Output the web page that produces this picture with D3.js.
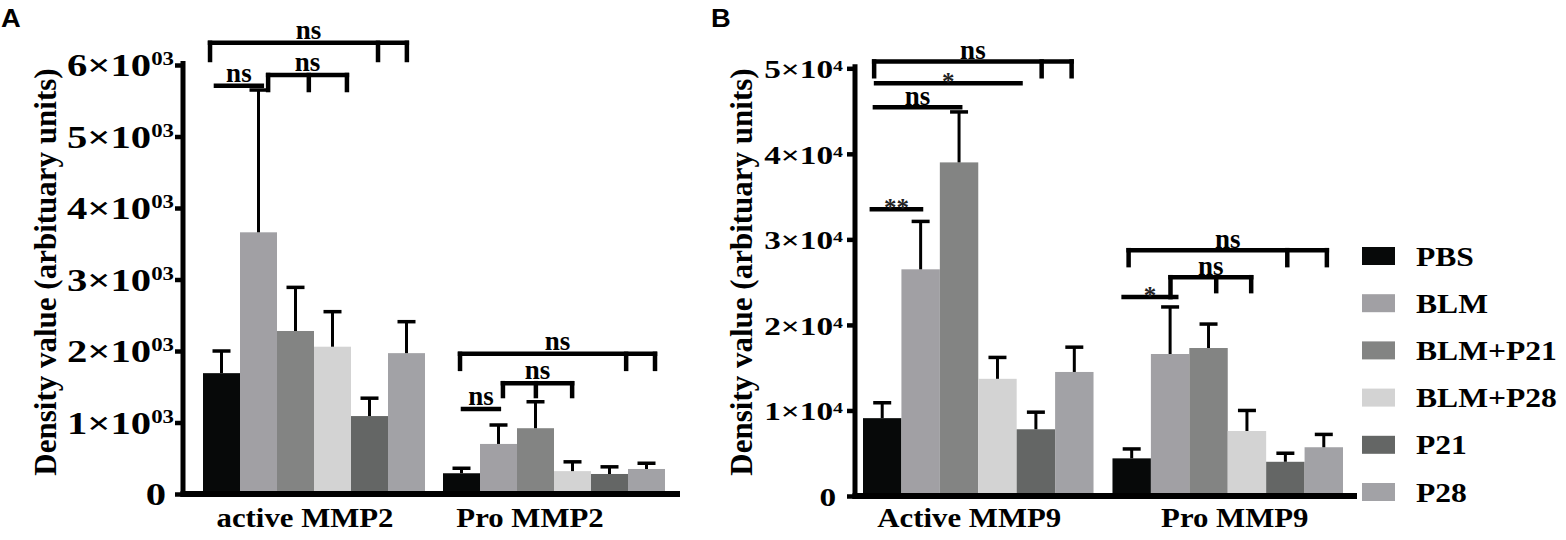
<!DOCTYPE html>
<html><head><meta charset="utf-8">
<script src="https://cdn.jsdelivr.net/npm/d3@7"></script>
<style>
html,body{margin:0;padding:0;background:#fff;}
svg{display:block;}
text{font-family:"Liberation Serif","Times New Roman",serif;font-weight:bold;fill:#000;}
</style></head><body>
<script>
// ---------- DATA ----------
const series = ["PBS","BLM","BLM+P21","BLM+P28","P21","P28"];
const seriesColors = ["#070909","#a1a0a4","#838483","#d3d3d3","#646665","#a2a2a6"];

// Panel A
const groupsA = ["active MMP2","Pro MMP2"];
const meanActiveMMP2 = [1690,3660,2280,2060,1090,1970];
const semActiveMMP2  = [310,1990,610,490,250,440];
const meanProMMP2    = [290,700,920,320,280,350];
const semProMMP2     = [70,265,370,130,100,80];
const ticksA      = [0,1000,2000,3000,4000,5000,6000];
const tickLabelsA = ["0","1×10","2×10","3×10","4×10","5×10","6×10"];
const tickSupA    = ["","03","03","03","03","03","03"];

// Panel B
const groupsB = ["Active MMP9","Pro MMP9"];
const meanActiveMMP9 = [9100,26500,39000,13700,7800,14500];
const semActiveMMP9  = [1800,5600,5900,2500,2000,2900];
const meanProMMP9    = [4400,16600,17300,7600,4000,5700];
const semProMMP9     = [1100,5500,2800,2400,1000,1500];
const ticksB      = [0,10000,20000,30000,40000,50000];
const tickLabelsB = ["0","1×10","2×10","3×10","4×10","5×10"];
const tickSupB    = ["","4","4","4","4","4"];

const yTitle = "Density value (arbituary units)";

// significance brackets: group index, bar-index span, level (data units), drop ticks
const bracketsA = [
  {g:0, from:-0.31, to:5.01, y:6310, ticks:[[-0.31,6070],[4.23,6070],[5.01,6070]], label:"ns"},
  {g:0, from:-0.15, to:1.09, y:5710, ticks:[], label:"ns"},
  {g:0, from:1.26, to:3.39, y:5860, ticks:[[1.26,5650],[2.36,5650],[3.39,5650]], label:"ns"},
  {g:1, from:-0.04, to:5.23, y:1960, ticks:[[-0.04,1750],[4.45,1750],[5.23,1750]], label:"ns"},
  {g:1, from:1.12, to:2.99, y:1550, ticks:[[1.12,1370],[2.01,1370],[2.99,1370]], label:"ns"},
  {g:1, from:0.04, to:1.01, y:1190, ticks:[], label:"ns"}
];
const bracketsB = [
  {g:0, from:-0.21, to:4.93, y:50800, ticks:[[-0.21,49070],[4.15,49070],[4.93,49070]], label:"ns"},
  {g:0, from:-0.16, to:3.6, y:48250, ticks:[], label:"*"},
  {g:0, from:-0.19, to:2.03, y:45440, ticks:[], label:"ns"},
  {g:0, from:-0.27, to:1.01, y:33530, ticks:[], label:"**"},
  {g:1, from:-0.08, to:5.08, y:28740, ticks:[[-0.08,26990],[4.05,26990],[5.08,26990]], label:"ns"},
  {g:1, from:1.01, to:3.11, y:25580, ticks:[[1.01,23250],[2.2,23950],[3.11,23950]], label:"ns"},
  {g:1, from:-0.21, to:1.16, y:23250, ticks:[], label:"*"}
];

// ---------- LAYOUT ----------
const W = 1566, H = 540;
const svg = d3.select("body").append("svg").attr("width", W).attr("height", H);

function drawPanel(cfg) {
  const g = svg.append("g");
  const y = d3.scaleLinear().domain([0, cfg.yMax]).range([cfg.y0, cfg.yTop]);
  const x0 = d3.scaleBand().domain(cfg.groups).range(cfg.barRange).paddingInner(cfg.pad);
  const x1 = d3.scaleBand().domain(series).range([0, x0.bandwidth()]);
  const bw = x1.bandwidth();

  // bars + error bars
  cfg.groups.forEach((grp, gi) => {
    const means = cfg.means[gi], sems = cfg.sems[gi];
    series.forEach((s, si) => {
      const bx = x0(grp) + x1(s);
      g.append("rect")
        .attr("x", bx).attr("y", y(means[si]))
        .attr("width", bw).attr("height", y(0) - y(means[si]))
        .attr("fill", seriesColors[si]);
      const cx = bx + bw / 2, top = y(means[si] + sems[si]);
      g.append("line").attr("x1", cx).attr("x2", cx)
        .attr("y1", y(means[si])).attr("y2", top)
        .attr("stroke", "#000").attr("stroke-width", 3);
      g.append("line").attr("x1", cx - 9).attr("x2", cx + 9)
        .attr("y1", top).attr("y2", top)
        .attr("stroke", "#000").attr("stroke-width", 3.5);
    });
  });

  // y axis
  const yAxis = d3.axisLeft(y).tickValues(cfg.ticks).tickSize(8).tickSizeOuter(0).tickFormat("");
  const ag = g.append("g").attr("transform", `translate(${cfg.axisX},0)`).call(yAxis);
  ag.select(".domain").remove();
  ag.selectAll(".tick line").attr("stroke", "#000").attr("stroke-width", 4.5);
  g.append("line").attr("x1", cfg.axisX).attr("x2", cfg.axisX)
    .attr("y1", cfg.yTop - 4).attr("y2", cfg.y0 + 3)
    .attr("stroke", "#000").attr("stroke-width", 5);
  // x axis
  g.append("line").attr("x1", cfg.axisX - 2.5).attr("x2", cfg.xEnd)
    .attr("y1", cfg.y0).attr("y2", cfg.y0)
    .attr("stroke", "#000").attr("stroke-width", 6);

  // tick labels
  cfg.ticks.forEach((t, i) => {
    const hasSup = cfg.tickSup[i] !== "";
    const rx = cfg.axisX - (hasSup ? cfg.labelGap : cfg.zeroGap);
    const txt = g.append("text")
      .attr("text-anchor", "end")
      .attr("transform", `translate(${rx},${y(t) + cfg.tickBaseDy}) scale(${cfg.tickStretch},1)`)
      .style("font-size", cfg.tickFont + "px");
    txt.append("tspan").text(cfg.tickLabels[i]);
    if (hasSup) {
      txt.append("tspan").text(cfg.tickSup[i])
        .attr("dy", cfg.supDy).style("font-size", cfg.supFont + "px");
    }
  });

  // y title
  g.append("text")
    .attr("text-anchor", "middle")
    .attr("transform", `translate(${cfg.titleX},${cfg.titleY}) rotate(-90)`)
    .style("font-size", "31px")
    .text(yTitle);

  // x labels
  cfg.groups.forEach((grp, gi) => {
    g.append("text")
      .attr("text-anchor", "middle")
      .attr("transform", `translate(${x0(grp) + x0.bandwidth() / 2 + cfg.xLabelShift[gi]},527) scale(1.1,1)`)
      .style("font-size", "28px")
      .text(grp);
  });

  // brackets
  const px = (gi, idx) => x0(cfg.groups[gi]) + (idx + 0.5) * bw;
  cfg.brackets.forEach(b => {
    const ly = y(b.y);
    const xa = px(b.g, b.from), xb = px(b.g, b.to);
    g.append("line").attr("x1", xa).attr("x2", xb).attr("y1", ly).attr("y2", ly)
      .attr("stroke", "#000").attr("stroke-width", 4.5).attr("stroke-linecap", "square");
    b.ticks.forEach(([ti, te]) => {
      const tx = px(b.g, ti);
      g.append("line").attr("x1", tx).attr("x2", tx).attr("y1", ly).attr("y2", y(te))
        .attr("stroke", "#000").attr("stroke-width", 4.5).attr("stroke-linecap", "square");
    });
    const isStar = b.label.indexOf("*") >= 0;
    g.append("text")
      .attr("text-anchor", "middle")
      .attr("x", (xa + xb) / 2)
      .attr("y", ly + (isStar ? 7 : cfg.nsDy))
      .style("font-size", isStar ? "25px" : "27px")
      .style("fill", isStar ? "#222" : "#000")
      .text(b.label);
  });
}

drawPanel({
  groups: groupsA, means: [meanActiveMMP2, meanProMMP2], sems: [semActiveMMP2, semProMMP2],
  yMax: 6000, y0: 494, yTop: 65, barRange: [203, 665], pad: 0.075,
  axisX: 183, xEnd: 680, ticks: ticksA, tickLabels: tickLabelsA, tickSup: tickSupA,
  tickFont: 32, supFont: 18, supDy: -11, tickBaseDy: 11, tickStretch: 1.27,
  labelGap: 9, zeroGap: 17, titleX: 56, titleY: 272, xLabelShift: [-9, -24],
  brackets: bracketsA, nsDy: -4
});

drawPanel({
  groups: groupsB, means: [meanActiveMMP9, meanProMMP9], sems: [semActiveMMP9, semProMMP9],
  yMax: 50000, y0: 496, yTop: 68.3, barRange: [863, 1343], pad: 0.076,
  axisX: 855, xEnd: 1357, ticks: ticksB, tickLabels: tickLabelsB, tickSup: tickSupB,
  tickFont: 25, supFont: 15, supDy: -7, tickBaseDy: 10, tickStretch: 1.33,
  labelGap: 12, zeroGap: 19, titleX: 752, titleY: 272, xLabelShift: [-9, 7],
  brackets: bracketsB, nsDy: -2
});

// legend
const leg = svg.append("g");
series.forEach((s, i) => {
  const cy = 256 + i * 47.2;
  leg.append("rect").attr("x", 1362).attr("y", cy - 9).attr("width", 33).attr("height", 18)
    .attr("fill", seriesColors[i]);
  leg.append("text")
    .attr("transform", `translate(1416,${cy + 9.5}) scale(1.17,1)`)
    .style("font-size", "27px")
    .text(s);
});

// panel letters
[["A", 1], ["B", 711]].forEach(([t, x]) => {
  svg.append("text")
    .attr("transform", `translate(${x},27) scale(1.05,1)`)
    .style("font-family", "'Liberation Sans', Arial, sans-serif")
    .style("font-size", "26px")
    .text(t);
});
</script>
</body></html>
